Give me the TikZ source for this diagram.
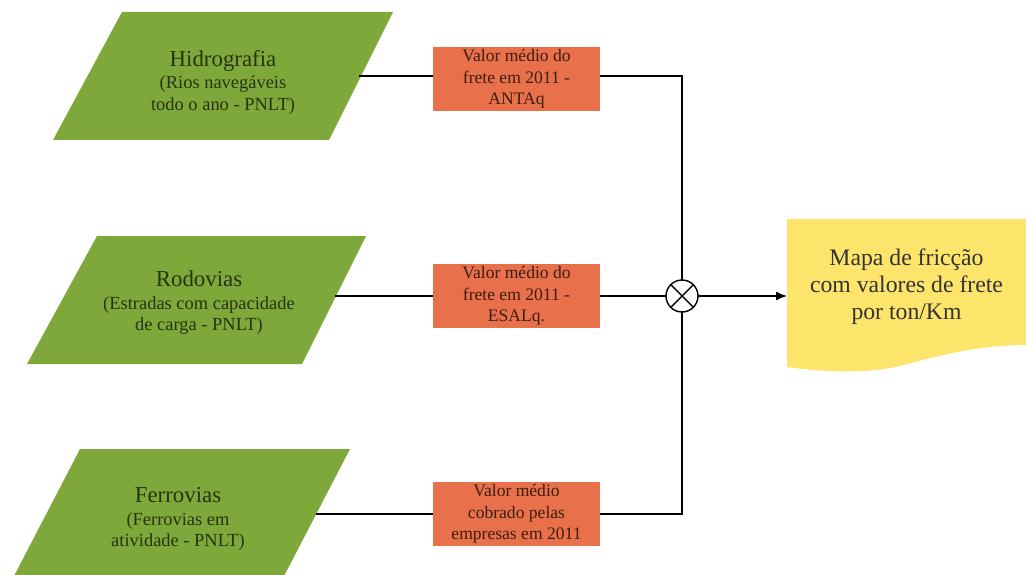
\documentclass[tikz,border=0pt]{standalone}
\usepackage{fontspec}
\setmainfont{Liberation Serif}
\usetikzlibrary{arrows.meta,calc}
\definecolor{verde}{HTML}{7EA83A}
\definecolor{laranja}{HTML}{E8704A}
\definecolor{amarelo}{HTML}{FDE56B}
\definecolor{txverde}{HTML}{26340F}
\definecolor{txlaranja}{HTML}{3D1E12}
\definecolor{txamarelo}{HTML}{333333}
\newcommand{\titulo}{\fontsize{13}{15}\selectfont}
\newcommand{\subtit}{\fontsize{10.5}{12.6}\selectfont}
\tikzset{
  fonte/.style={fill=verde},
  rotulo/.style={text=txverde,align=center,inner sep=0pt},
  custo/.style={fill=laranja,text=txlaranja,align=center,minimum width=3.34cm,minimum height=1.28cm,
    inner sep=0pt,outer sep=0pt,font=\fontsize{10}{12.2}\selectfont},
  liga/.style={black,line width=0.8pt},
  seta/.style={-{Latex[length=2.2mm,width=1.8mm]},black,line width=0.8pt},
  juncao/.style={circle,draw,fill=white,line width=0.8pt,minimum size=0.64cm,inner sep=0pt,outer sep=0pt},
}

\begin{document}
\begin{tikzpicture}[x=0.02cm,y=-0.02cm]
  \useasboundingbox (0,0) rectangle (1026,574);
  % fontes de dados
  \fill[fonte] (122,12) -- (393,12) -- (329,140) -- (53,140) -- cycle;
  \fill[fonte] (97,236) -- (366,236) -- (302,364) -- (27,364) -- cycle;
  \fill[fonte] (80,449) -- (350,449) -- (283,578) -- (13,578) -- cycle;
  \node[rotulo] (hidro) at (223,82) {{\titulo Hidrografia}\\[1pt]{\subtit (Rios navegáveis}\\{\subtit todo o ano - PNLT)}};
  \node[rotulo] (rodo) at (199,303) {{\titulo Rodovias}\\[1pt]{\subtit (Estradas com capacidade}\\{\subtit de carga - PNLT)}};
  \node[rotulo] (ferro) at (178,519) {{\titulo Ferrovias}\\[1pt]{\subtit (Ferrovias em}\\{\subtit atividade - PNLT)}};
  \coordinate (hidro-e) at (359,76);
  \coordinate (rodo-e) at (335,296);
  \coordinate (ferro-e) at (316,514);
  % custos
  \node[custo] (frete1) at (516.5,79) {Valor médio do\\frete em 2011 -\\ANTAq};
  \node[custo] (frete2) at (516.5,296) {Valor médio do\\frete em 2011 -\\ESALq.};
  \node[custo] (frete3) at (516.5,514) {Valor médio\\cobrado pelas\\empresas em 2011};
  \node[juncao] (mult) at (682,296) {};
  \draw[liga] (mult.north west) -- (mult.south east) (mult.north east) -- (mult.south west);
  % resultado
  \fill[amarelo] (787,219) -- (1026,219) -- (1026,345) .. controls (980,345) and (940,355) .. (900,366)
    .. controls (870,373) and (830,373) .. (787,367) -- cycle;
  \node[align=center,text=txamarelo,font=\fontsize{13.5}{15.4}\selectfont,minimum width=4.78cm,outer sep=0pt] (mapa) at (906.5,287)
    {Mapa de fricção\\com valores de frete\\por ton/Km};
  % ligacoes
  \draw[liga] (hidro-e) -- (hidro-e -| frete1.west);
  \draw[liga] (frete1.east |- hidro-e) -| (mult.north);
  \draw[liga] (rodo-e) -- (frete2.west);
  \draw[liga] (frete2.east) -- (mult.west);
  \draw[liga] (ferro-e) -- (frete3.west);
  \draw[liga] (frete3.east) -| (mult.south);
  \draw[seta] (mult.east) -- (mult -| mapa.west);
\end{tikzpicture}
\end{document}
